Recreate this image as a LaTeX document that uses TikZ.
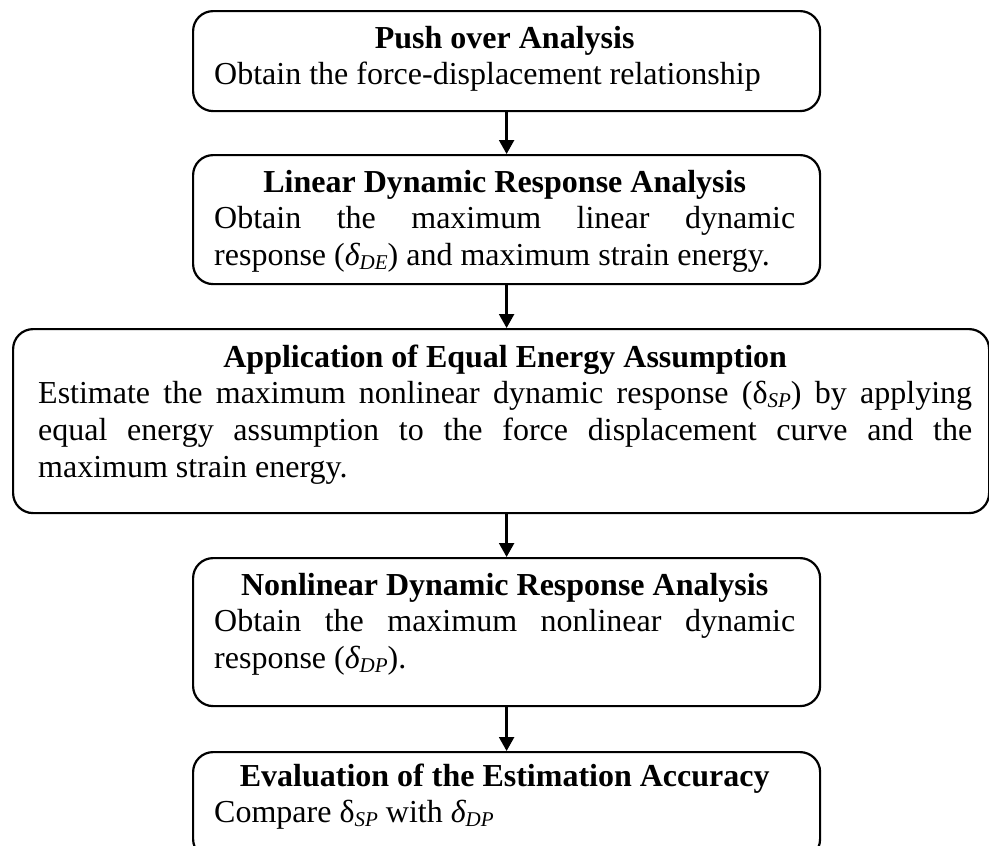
\documentclass[tikz,border=0pt]{standalone}
\usepackage{fontspec}
\setmainfont{Liberation Serif}
\usetikzlibrary{arrows.meta}
\newcommand\bxttl[2]{\hbox to #1{\hfil\bfseries #2\hfil}}
\newcommand\bxjust[2]{\hbox to #1{#2}}
\newcommand\bxleft[2]{\hbox to #1{#2\hfil}}
\newcommand\idel{{\itshape δ}}
\newcommand\sbs[1]{\raisebox{-4pt}{\fontsize{21}{21}\selectfont\itshape #1}}
\begin{document}
\begin{tikzpicture}[x=1pt,y=-1pt,
  box/.style={draw, line width=2.2pt, rounded corners=20pt, anchor=north west, inner sep=0pt},
  txt/.style={anchor=base west, inner sep=0pt, font=\fontsize{32}{36.8}\selectfont},
  arr/.style={line width=2.4pt, -{Triangle[width=15pt,length=14pt]}}]
\useasboundingbox (0,0) rectangle (989,846);
\fill[white] (0,0) rectangle (989,846);
% boxes
\node[box, minimum width=627pt, minimum height=100pt] (b1) at (192,10) {};
\node[box, minimum width=627pt, minimum height=129pt] (b2) at (192,154) {};
\node[box, minimum width=976pt, minimum height=184pt] (b3) at (12,328) {};
\node[box, minimum width=627pt, minimum height=148pt] (b4) at (192,557) {};
\node[box, minimum width=627pt, minimum height=107pt] (b5) at (192,751) {};
% texts
\node[txt] (t1) at (214,48) {\vtop{%
  \bxttl{581pt}{Push over Analysis}%
  \bxleft{581pt}{Obtain the force-displacement relationship}}};
\node[txt] (t2) at (214,192) {\vtop{%
  \bxttl{581pt}{Linear Dynamic Response Analysis}%
  \bxjust{581pt}{Obtain the maximum linear dynamic}%
  \bxleft{581pt}{response (\idel\sbs{DE}) and maximum strain energy.}}};
\node[txt] (t3) at (38,367) {\vtop{%
  \bxttl{934pt}{Application of Equal Energy Assumption}%
  \bxjust{934pt}{Estimate the maximum nonlinear dynamic response (δ\sbs{SP}) by applying}%
  \bxjust{934pt}{equal energy assumption to the force displacement curve and the}%
  \bxleft{934pt}{maximum strain energy.}}};
\node[txt] (t4) at (214,595) {\vtop{%
  \bxttl{581pt}{Nonlinear Dynamic Response Analysis}%
  \bxjust{581pt}{Obtain the maximum nonlinear dynamic}%
  \bxleft{581pt}{response (\idel\sbs{DP}).}}};
\node[txt] (t5) at (214,786) {\vtop{%
  \bxttl{581pt}{Evaluation of the Estimation Accuracy}%
  \bxleft{581pt}{Compare δ\sbs{SP} with \idel\sbs{DP}}}};
% arrows
\draw[arr] (b1.south) -- (b2.north);
\draw[arr] (b2.south) -- (b2.south |- b3.north);
\draw[arr] (b3.south -| b4.north) -- (b4.north);
\draw[arr] (b4.south) -- (b5.north);
\end{tikzpicture}
\end{document}
